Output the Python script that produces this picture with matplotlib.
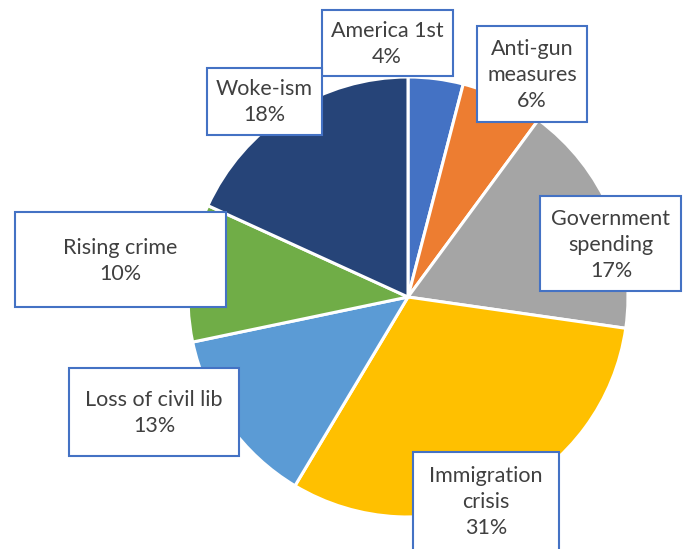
import matplotlib
matplotlib.use("Agg")
import matplotlib.pyplot as plt
from matplotlib.patches import Rectangle

categories = ["America 1st", "Anti-gun\nmeasures", "Government\nspending",
              "Immigration\ncrisis", "Loss of civil lib", "Rising crime", "Woke-ism"]
shares = [4, 6, 17, 31, 13, 10, 18]
colors = ["#4472C4", "#ED7D31", "#A5A5A5", "#FFC000", "#5B9BD5", "#70AD47", "#264478"]

W, H = 683, 549
# label boxes in pixels: (left, top, right, bottom)
boxes = [(322, 10, 453, 76), (477, 26, 587, 122), (540, 196, 681, 291),
         (413, 452, 559, 560), (69, 368, 239, 456), (15, 212, 226, 307),
         (207, 68, 322, 135)]
# text centre in pixels
text_pos = [(387, 44), (532, 75), (611, 245), (486, 502), (154, 413), (120, 261), (264, 102)]

plt.rcParams['font.family'] = ['Lato', 'DejaVu Sans']
fig = plt.figure(figsize=(W / 100, H / 100), dpi=100)

cx, cy, r = 408, 297, 220
ax = fig.add_axes([(cx - r) / W, 1 - (cy + r) / H, 2 * r / W, 2 * r / H])
ax.pie(shares, colors=colors, startangle=90, counterclock=False, radius=1,
       wedgeprops=dict(edgecolor="white", linewidth=2.2))
ax.set_xlim(-1, 1)
ax.set_ylim(-1, 1)
ax.axis("off")

for cat, val, (l, t, rr, b), (tx, ty) in zip(categories, shares, boxes, text_pos):
    rect = Rectangle((l / W, 1 - b / H), (rr - l) / W, (b - t) / H,
                     transform=fig.transFigure, facecolor="white",
                     edgecolor="#4472C4", linewidth=1.5, zorder=5)
    fig.add_artist(rect)
    fig.text(tx / W, 1 - ty / H, f"{cat}\n{val}%", ha="center", va="center",
             fontsize=15.5, color="#404040", linespacing=1.4, zorder=6)

fig.savefig("out.png", dpi=100)
